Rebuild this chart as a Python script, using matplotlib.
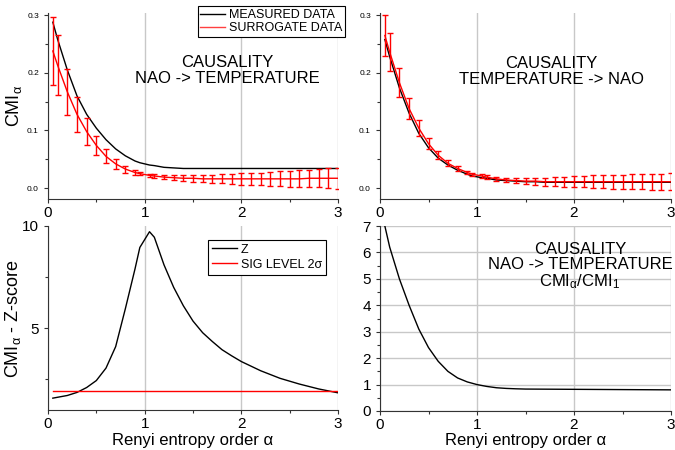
import matplotlib
matplotlib.use("Agg")
import matplotlib.pyplot as plt
from matplotlib.ticker import MultipleLocator
from matplotlib.lines import Line2D

plt.rcParams['font.family'] = ['Liberation Sans', 'DejaVu Sans']
plt.rcParams['mathtext.fontset'] = 'custom'
plt.rcParams['mathtext.rm'] = 'Liberation Sans'
plt.rcParams['mathtext.it'] = 'Liberation Sans'
plt.rcParams['mathtext.default'] = 'regular'

# ---- data ----
alpha_pts = [0.05, 0.1, 0.2, 0.3, 0.4, 0.5, 0.6, 0.7, 0.8, 0.9, 0.95, 1.05, 1.1,
             1.2, 1.3, 1.4, 1.5, 1.6, 1.7, 1.8, 1.9, 2.0, 2.1, 2.2, 2.3, 2.4,
             2.5, 2.6, 2.7, 2.8, 2.9, 3.0]

# Top-left: NAO -> TEMPERATURE
nt_measured = [0.288, 0.258, 0.205, 0.160, 0.128, 0.104, 0.084, 0.068, 0.056, 0.047,
               0.044, 0.040, 0.039, 0.036, 0.035, 0.034, 0.034, 0.034, 0.034, 0.034,
               0.034, 0.034, 0.034, 0.034, 0.034, 0.034, 0.034, 0.034, 0.034, 0.034,
               0.034, 0.034]
nt_surr_mean = [0.238, 0.213, 0.167, 0.128, 0.098, 0.074, 0.055, 0.042, 0.033, 0.027,
                0.025, 0.022, 0.021, 0.019, 0.018, 0.017, 0.017, 0.016, 0.016, 0.016,
                0.016, 0.016, 0.016, 0.016, 0.016, 0.016, 0.016, 0.016, 0.017, 0.017,
                0.017, 0.017]
nt_surr_err = [0.059, 0.052, 0.040, 0.030, 0.023, 0.016, 0.012, 0.009, 0.006, 0.004,
               0.003, 0.003, 0.003, 0.004, 0.004, 0.005, 0.006, 0.006, 0.007, 0.008,
               0.009, 0.010, 0.011, 0.011, 0.012, 0.013, 0.014, 0.015, 0.015, 0.016,
               0.017, 0.018]

# Top-right: TEMPERATURE -> NAO
tn_measured = [0.258, 0.228, 0.174, 0.130, 0.095, 0.070, 0.052, 0.040, 0.031, 0.024,
               0.021, 0.018, 0.017, 0.014, 0.013, 0.012, 0.011, 0.011, 0.010, 0.010,
               0.010, 0.010, 0.010, 0.010, 0.010, 0.010, 0.010, 0.010, 0.010, 0.010,
               0.010, 0.010]
tn_surr_mean = [0.265, 0.236, 0.183, 0.138, 0.104, 0.077, 0.057, 0.043, 0.034, 0.027,
                0.024, 0.021, 0.019, 0.016, 0.014, 0.013, 0.012, 0.012, 0.011, 0.011,
                0.011, 0.011, 0.011, 0.011, 0.011, 0.011, 0.011, 0.011, 0.011, 0.011,
                0.011, 0.011]
tn_surr_err = [0.035, 0.033, 0.025, 0.018, 0.014, 0.010, 0.007, 0.005, 0.004, 0.003,
               0.003, 0.003, 0.003, 0.003, 0.004, 0.004, 0.005, 0.006, 0.007, 0.008,
               0.009, 0.010, 0.010, 0.011, 0.011, 0.012, 0.012, 0.013, 0.013, 0.014,
               0.014, 0.015]

# Bottom-left: Z-score
z_alpha = [0.05, 0.2, 0.3, 0.4, 0.5, 0.6, 0.7, 0.8, 0.9, 0.95, 1.05, 1.1, 1.2, 1.3,
           1.4, 1.5, 1.6, 1.7, 1.8, 1.9, 2.0, 2.2, 2.4, 2.6, 2.8, 3.0]
z_score = [1.58, 1.71, 1.86, 2.10, 2.44, 3.05, 4.10, 5.95, 7.90, 8.95, 9.72, 9.45,
           8.10, 7.00, 6.10, 5.35, 4.78, 4.35, 3.95, 3.65, 3.37, 2.92, 2.55, 2.27,
           2.03, 1.84]
sig_level = 1.95

# Bottom-right: CMI_alpha / CMI_1
r_alpha = [0.05, 0.1, 0.2, 0.3, 0.4, 0.5, 0.6, 0.7, 0.8, 0.9, 1.0, 1.1, 1.2, 1.3,
           1.4, 1.5, 2.0, 2.5, 3.0]
ratio = [7.0, 6.2, 5.0, 4.0, 3.1, 2.4, 1.88, 1.5, 1.25, 1.1, 1.0, 0.93, 0.88, 0.855,
         0.84, 0.83, 0.82, 0.81, 0.80]

# ---- figure ----
fig = plt.figure(figsize=(6.75, 4.5), dpi=100)
W, H = 675, 450

def add_ax(l, r, t, b):
    return fig.add_axes([l / W, 1 - b / H, (r - l) / W, (b - t) / H])

ax1 = add_ax(48, 338, 13, 199)
ax2 = add_ax(380, 671, 13, 199)
ax3 = add_ax(48, 338, 226, 410)
ax4 = add_ax(380, 671, 226, 411)

grid_kw = dict(color='#c8c8c8', linewidth=1.0)

for ax in (ax1, ax2, ax3, ax4):
    ax.spines['top'].set_visible(False)
    ax.spines['right'].set_visible(False)
    ax.spines['left'].set_color('#333333')
    ax.spines['bottom'].set_color('#333333')
    ax.set_xlim(0, 3)
    ax.xaxis.set_major_locator(MultipleLocator(1))
    ax.xaxis.set_minor_locator(MultipleLocator(0.5))
    ax.tick_params(axis='both', which='major', direction='out', length=3, width=0.8,
                   colors='#333333', labelcolor='black')
    ax.tick_params(axis='both', which='minor', direction='out', length=2, width=0.8,
                   colors='#333333')
    ax.tick_params(axis='x', labelsize=11, pad=2)
    ax.set_axisbelow(True)
    ax.xaxis.grid(True, which='major', **grid_kw)

# top panels
for ax, meas, mean, err in ((ax1, nt_measured, nt_surr_mean, nt_surr_err),
                            (ax2, tn_measured, tn_surr_mean, tn_surr_err)):
    ax.set_ylim(-0.019, 0.304)
    ax.yaxis.set_minor_locator(MultipleLocator(0.05))
    ax.set_yticks([0.0, 0.1, 0.2, 0.3])
    ax.set_yticklabels(['0.0', '0.1', '0.2', '0.3'])
    ax.tick_params(axis='y', labelsize=6)
    ax.plot(alpha_pts, meas, color='black', lw=1.0, zorder=3)
    ax.errorbar(alpha_pts, mean, yerr=err, color='red', ecolor='red', lw=1.0,
                elinewidth=1.0, capsize=2.5, capthick=1.0, zorder=4)

ax1.set_ylabel('CMI$_{α}$', fontsize=13, va='center')
ax1.yaxis.set_label_coords(-0.118, 0.5)
handles1 = [Line2D([], [], color='black', lw=1.0),
            Line2D([], [], color='#ff4040', lw=1.0)]
leg1 = ax1.legend(handles1, ['MEASURED DATA', 'SURROGATE DATA'], loc='upper left',
                  bbox_to_anchor=(0.517, 1.035), fontsize=9, frameon=True,
                  fancybox=False, edgecolor='black', borderpad=0.2,
                  labelspacing=0.1, handlelength=2.0, handletextpad=0.3,
                  borderaxespad=0, framealpha=1)
leg1.get_frame().set_linewidth(0.8)
ax1.text(0.62, 0.69, 'CAUSALITY\nNAO -> TEMPERATURE', transform=ax1.transAxes,
         ha='center', va='center', fontsize=12, linespacing=1.1)
ax2.text(0.59, 0.685, 'CAUSALITY\nTEMPERATURE -> NAO', transform=ax2.transAxes,
         ha='center', va='center', fontsize=12, linespacing=1.15)

# bottom-left
ax3.set_ylim(1, 10)
ax3.yaxis.set_major_locator(MultipleLocator(5))
ax3.yaxis.set_minor_locator(MultipleLocator(2.5))
ax3.tick_params(axis='y', labelsize=11)
ax3.plot(z_alpha, z_score, color='black', lw=1.0)
ax3.plot([z_alpha[0], z_alpha[-1]], [sig_level, sig_level], color='red', lw=1.0)
ax3.set_ylabel('CMI$_{α}$ - Z-score', fontsize=13, va='center')
ax3.yaxis.set_label_coords(-0.12, 0.5)
ax3.set_xlabel('Renyi entropy order α', fontsize=12, va='center')
ax3.xaxis.set_label_coords(0.5, -0.168)
handles3 = [Line2D([], [], color='black', lw=1.0),
            Line2D([], [], color='red', lw=1.0)]
leg3 = ax3.legend(handles3, ['Z', 'SIG LEVEL 2σ'], loc='upper left',
                  bbox_to_anchor=(0.552, 0.924), fontsize=9, frameon=True,
                  fancybox=False, edgecolor='black', borderpad=0.3,
                  labelspacing=0.25, handlelength=2.0, handletextpad=0.3,
                  borderaxespad=0, framealpha=1)
leg3.get_frame().set_linewidth(0.8)

# bottom-right
ax4.set_ylim(0, 7)
ax4.yaxis.set_major_locator(MultipleLocator(1))
ax4.yaxis.set_minor_locator(MultipleLocator(0.5))
ax4.tick_params(axis='y', labelsize=11)
ax4.yaxis.grid(True, which='major', **grid_kw)
ax4.plot(r_alpha, ratio, color='black', lw=1.0)
ax4.set_xlabel('Renyi entropy order α', fontsize=12, va='center')
ax4.xaxis.set_label_coords(0.5, -0.162)
ax4.text(0.687, 0.78, 'CAUSALITY\nNAO -> TEMPERATURE\n' + 'CMI$_{α}$/CMI$_{1}$',
         transform=ax4.transAxes, ha='center', va='center', fontsize=12,
         linespacing=1.0)

fig.savefig('out.png', dpi=100)
